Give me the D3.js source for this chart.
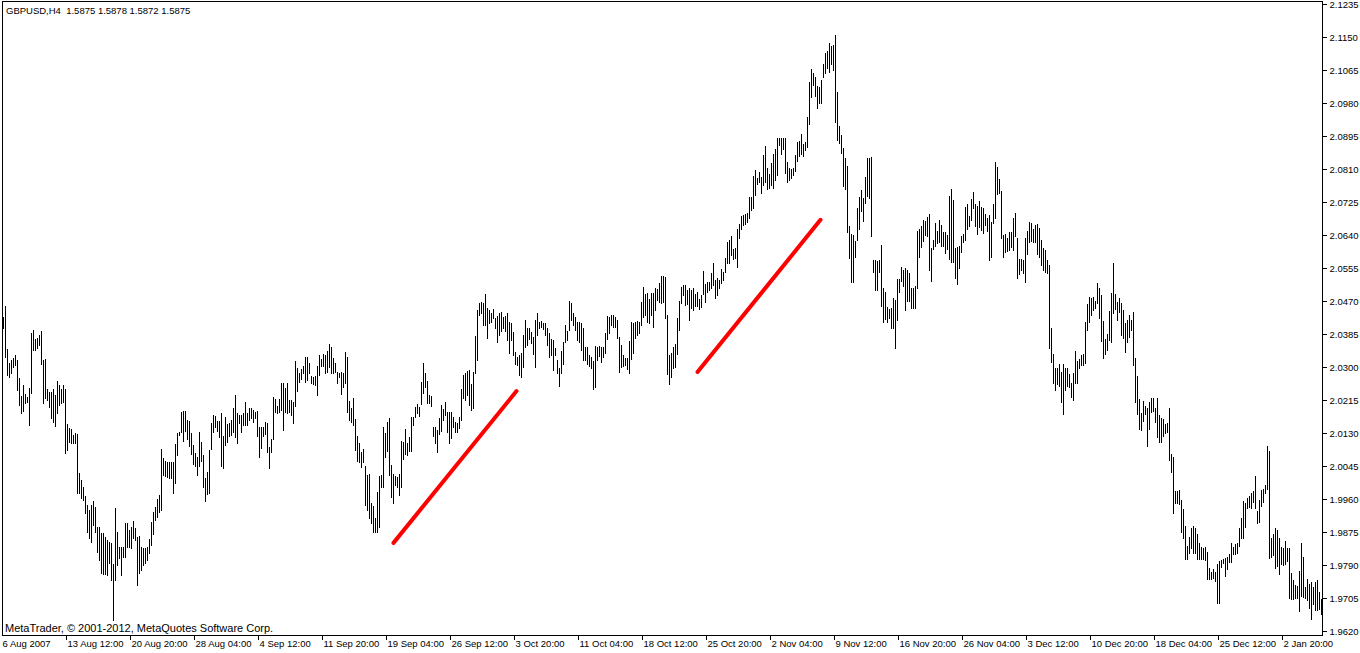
<!DOCTYPE html>
<html><head><meta charset="utf-8">
<script src="https://cdn.jsdelivr.net/npm/d3@7/dist/d3.min.js"></script>
<style>
body{margin:0;background:#fff}
svg{display:block}
text{font-family:"Liberation Sans",Arial,sans-serif;font-size:9.5px;fill:#000}
</style>
</head><body>
<svg id="chart" width="1360" height="653"></svg>
<script>
const symbolTitle = "GBPUSD,H4  1.5875 1.5878 1.5872 1.5875";
const copyrightText = "MetaTrader, \u00a9 2001-2012, MetaQuotes Software Corp.";

const highs = [
2.0429,2.0457,2.0346,2.0310,2.0318,2.0323,2.0331,2.0318,2.0272,2.0225,
2.0254,2.0230,2.0223,2.0246,2.0388,2.0395,2.0372,2.0375,2.0382,2.0393,
2.0318,2.0321,2.0243,2.0236,2.0236,2.0243,2.0228,2.0264,2.0254,2.0243,
2.0254,2.0243,2.0153,2.0143,2.0140,2.0125,2.0130,2.0127,2.0027,2.0009,
1.9991,1.9968,1.9945,1.9932,1.9945,1.9955,1.9939,1.9888,1.9888,1.9872,
1.9872,1.9862,1.9854,1.9849,1.9847,1.9793,1.9937,1.9875,1.9836,1.9836,
1.9836,1.9898,1.9898,1.9880,1.9888,1.9903,1.9885,1.9862,1.9865,1.9836,
1.9834,1.9834,1.9836,1.9857,1.9901,1.9926,1.9939,1.9960,1.9970,2.0089,
2.0066,2.0058,2.0055,2.0055,2.0055,2.0055,2.0102,2.0130,2.0133,2.0184,
2.0187,2.0187,2.0163,2.0161,2.0130,2.0099,2.0079,2.0068,2.0133,2.0107,
2.0073,2.0014,2.0030,2.0086,2.0156,2.0176,2.0174,2.0161,2.0161,2.0182,
2.0122,2.0171,2.0153,2.0156,2.0163,2.0194,2.0228,2.0182,2.0176,2.0176,
2.0182,2.0210,2.0182,2.0194,2.0194,2.0189,2.0184,2.0187,2.0146,2.0146,
2.0146,2.0158,2.0156,2.0094,2.0115,2.0223,2.0218,2.0200,2.0218,2.0259,
2.0259,2.0246,2.0259,2.0215,2.0215,2.0210,2.0315,2.0297,2.0285,2.0295,
2.0303,2.0326,2.0326,2.0310,2.0277,2.0274,2.0277,2.0303,2.0331,2.0321,
2.0334,2.0331,2.0341,2.0359,2.0352,2.0323,2.0310,2.0287,2.0285,2.0287,
2.0285,2.0339,2.0326,2.0212,2.0194,2.0220,2.0166,2.0122,2.0104,2.0081,
2.0089,2.0045,2.0022,2.0024,1.9950,1.9942,1.9911,1.9978,2.0019,2.0022,
2.0146,2.0130,2.0158,2.0169,2.0047,2.0024,2.0019,2.0017,2.0024,2.0109,
2.0107,2.0140,2.0104,2.0120,2.0171,2.0171,2.0197,2.0205,2.0197,2.0261,
2.0310,2.0285,2.0264,2.0228,2.0225,2.0146,2.0146,2.0138,2.0169,2.0202,
2.0192,2.0210,2.0184,2.0184,2.0184,2.0171,2.0158,2.0156,2.0171,2.0243,
2.0279,2.0285,2.0290,2.0292,2.0256,2.0287,2.0380,2.0447,2.0465,2.0467,
2.0465,2.0488,2.0452,2.0447,2.0439,2.0449,2.0426,2.0431,2.0439,2.0441,
2.0429,2.0431,2.0439,2.0416,2.0413,2.0390,2.0339,2.0326,2.0331,2.0336,
2.0382,2.0421,2.0400,2.0400,2.0390,2.0377,2.0421,2.0439,2.0416,2.0418,
2.0413,2.0413,2.0400,2.0388,2.0372,2.0370,2.0349,2.0318,2.0297,2.0341,
2.0365,2.0408,2.0393,2.0470,2.0465,2.0439,2.0429,2.0416,2.0416,2.0413,
2.0400,2.0352,2.0352,2.0331,2.0326,2.0315,2.0354,2.0352,2.0354,2.0352,
2.0352,2.0388,2.0431,2.0429,2.0434,2.0434,2.0429,2.0421,2.0377,2.0357,
2.0331,2.0323,2.0323,2.0367,2.0416,2.0413,2.0416,2.0418,2.0416,2.0467,
2.0506,2.0488,2.0491,2.0475,2.0491,2.0491,2.0504,2.0501,2.0516,2.0534,
2.0534,2.0532,2.0434,2.0331,2.0336,2.0352,2.0359,2.0426,2.0470,2.0506,
2.0511,2.0511,2.0498,2.0504,2.0498,2.0504,2.0488,2.0493,2.0475,2.0485,
2.0547,2.0514,2.0519,2.0519,2.0542,2.0568,2.0524,2.0529,2.0524,2.0552,
2.0545,2.0581,2.0622,2.0627,2.0637,2.0604,2.0606,2.0655,2.0668,2.0689,
2.0691,2.0694,2.0697,2.0738,2.0738,2.0792,2.0807,2.0787,2.0802,2.0789,
2.0846,2.0869,2.0813,2.0797,2.0825,2.0849,2.0861,2.0890,2.0890,2.0890,
2.0890,2.0890,2.0828,2.0813,2.0810,2.0813,2.0846,2.0880,2.0882,2.0900,
2.0874,2.0880,2.0944,2.1034,2.1068,2.1057,2.1047,2.1024,2.1021,2.1039,
2.1080,2.1110,2.1114,2.1135,2.1127,2.1129,2.1155,2.1008,2.0921,2.0898,
2.0864,2.0838,2.0818,2.0663,2.0643,2.0640,2.0625,2.0710,2.0738,2.0756,
2.0735,2.0789,2.0838,2.0838,2.0841,2.0576,2.0576,2.0573,2.0576,2.0614,
2.0504,2.0493,2.0454,2.0449,2.0452,2.0478,2.0473,2.0527,2.0527,2.0557,
2.0550,2.0555,2.0550,2.0542,2.0504,2.0504,2.0509,2.0650,2.0655,2.0663,
2.0679,2.0676,2.0686,2.0694,2.0606,2.0627,2.0671,2.0650,2.0679,2.0666,
2.0648,2.0648,2.0640,2.0740,2.0758,2.0730,2.0606,2.0609,2.0612,2.0637,
2.0643,2.0712,2.0720,2.0689,2.0733,2.0751,2.0720,2.0715,2.0728,2.0712,
2.0710,2.0694,2.0684,2.0691,2.0673,2.0720,2.0828,2.0815,2.0784,2.0753,
2.0640,2.0643,2.0632,2.0648,2.0648,2.0684,2.0697,2.0632,2.0578,2.0578,
2.0576,2.0632,2.0650,2.0673,2.0671,2.0655,2.0666,2.0668,2.0658,2.0627,
2.0606,2.0601,2.0576,2.0563,2.0400,2.0334,2.0297,2.0297,2.0308,2.0287,
2.0308,2.0297,2.0297,2.0282,2.0259,2.0285,2.0341,2.0315,2.0321,2.0331,
2.0334,2.0416,2.0462,2.0480,2.0478,2.0480,2.0470,2.0516,2.0504,2.0486,
2.0418,2.0372,2.0385,2.0444,2.0491,2.0568,2.0488,2.0467,2.0478,2.0465,
2.0447,2.0413,2.0421,2.0434,2.0421,2.0441,2.0323,2.0277,2.0218,2.0182,
2.0212,2.0200,2.0194,2.0210,2.0220,2.0220,2.0194,2.0220,2.0176,2.0169,
2.0166,2.0153,2.0156,2.0194,2.0076,2.0068,1.9981,1.9981,1.9983,1.9957,
1.9934,1.9890,1.9839,1.9862,1.9885,1.9890,1.9885,1.9870,1.9847,1.9836,
1.9834,1.9836,1.9823,1.9782,1.9772,1.9780,1.9772,1.9793,1.9800,1.9803,
1.9805,1.9808,1.9811,1.9818,1.9847,1.9836,1.9844,1.9847,1.9885,1.9911,
1.9955,1.9950,1.9963,1.9968,1.9975,1.9981,2.0019,1.9929,1.9957,1.9983,
1.9986,1.9996,2.0097,2.0084,1.9860,1.9870,1.9885,1.9880,1.9860,1.9836,
1.9834,1.9852,1.9834,1.9834,1.9769,1.9751,1.9738,1.9736,1.9774,1.9847,
1.9811,1.9733,1.9754,1.9741,1.9746,1.9733,1.9746,1.9751,1.9720,1.9702
];

const lows = [
2.0400,2.0326,2.0279,2.0274,2.0285,2.0300,2.0305,2.0241,2.0202,2.0182,
2.0187,2.0207,2.0210,2.0151,2.0233,2.0344,2.0344,2.0349,2.0357,2.0308,
2.0207,2.0220,2.0215,2.0197,2.0169,2.0158,2.0148,2.0182,2.0202,2.0207,
2.0210,2.0079,2.0086,2.0107,2.0104,2.0104,2.0104,1.9976,1.9976,1.9963,
1.9957,1.9924,1.9875,1.9860,1.9849,1.9893,1.9875,1.9823,1.9803,1.9769,
1.9767,1.9767,1.9764,1.9795,1.9751,1.9648,1.9751,1.9790,1.9808,1.9764,
1.9811,1.9811,1.9836,1.9836,1.9834,1.9860,1.9854,1.9738,1.9769,1.9777,
1.9790,1.9795,1.9803,1.9821,1.9842,1.9870,1.9906,1.9914,1.9926,1.9932,
2.0022,2.0019,2.0017,2.0014,2.0014,1.9976,2.0001,2.0073,2.0125,2.0133,
2.0109,2.0135,2.0115,2.0097,2.0076,2.0050,2.0045,2.0022,2.0045,2.0058,
1.9991,1.9955,1.9973,1.9976,2.0089,2.0133,2.0146,2.0135,2.0120,2.0045,
2.0040,2.0099,2.0107,2.0122,2.0125,2.0133,2.0120,2.0104,2.0156,2.0133,
2.0151,2.0151,2.0151,2.0163,2.0169,2.0158,2.0169,2.0122,2.0068,2.0091,
2.0122,2.0127,2.0081,2.0040,2.0081,2.0115,2.0184,2.0182,2.0184,2.0189,
2.0138,2.0184,2.0182,2.0184,2.0176,2.0156,2.0200,2.0238,2.0261,2.0269,
2.0285,2.0261,2.0267,2.0285,2.0259,2.0256,2.0254,2.0228,2.0279,2.0303,
2.0303,2.0285,2.0287,2.0300,2.0285,2.0285,2.0287,2.0259,2.0274,2.0230,
2.0249,2.0259,2.0184,2.0163,2.0158,2.0151,2.0086,2.0058,2.0055,2.0042,
2.0055,1.9945,1.9932,1.9911,1.9898,1.9875,1.9875,1.9875,1.9888,1.9991,
1.9991,2.0068,2.0084,2.0022,1.9965,1.9950,1.9996,1.9991,1.9970,1.9991,
2.0063,2.0076,2.0073,2.0084,2.0084,2.0151,2.0171,2.0182,2.0174,2.0205,
2.0233,2.0249,2.0207,2.0207,2.0200,2.0122,2.0104,2.0081,2.0127,2.0135,
2.0163,2.0176,2.0133,2.0104,2.0117,2.0146,2.0133,2.0133,2.0143,2.0163,
2.0220,2.0215,2.0228,2.0202,2.0189,2.0194,2.0285,2.0318,2.0434,2.0439,
2.0408,2.0408,2.0375,2.0413,2.0416,2.0426,2.0400,2.0364,2.0382,2.0393,
2.0400,2.0393,2.0370,2.0336,2.0370,2.0331,2.0308,2.0305,2.0279,2.0274,
2.0300,2.0352,2.0357,2.0372,2.0362,2.0334,2.0300,2.0382,2.0400,2.0403,
2.0398,2.0382,2.0357,2.0326,2.0331,2.0292,2.0331,2.0285,2.0251,2.0285,
2.0308,2.0364,2.0370,2.0395,2.0421,2.0408,2.0395,2.0370,2.0364,2.0344,
2.0318,2.0318,2.0308,2.0303,2.0297,2.0243,2.0249,2.0318,2.0328,2.0313,
2.0326,2.0336,2.0372,2.0388,2.0408,2.0403,2.0403,2.0375,2.0287,2.0300,
2.0303,2.0305,2.0295,2.0285,2.0321,2.0336,2.0375,2.0382,2.0388,2.0408,
2.0429,2.0434,2.0416,2.0413,2.0434,2.0403,2.0447,2.0473,2.0467,2.0465,
2.0467,2.0426,2.0282,2.0256,2.0274,2.0297,2.0300,2.0334,2.0395,2.0465,
2.0486,2.0460,2.0462,2.0421,2.0452,2.0447,2.0457,2.0457,2.0450,2.0455,
2.0488,2.0467,2.0493,2.0498,2.0504,2.0511,2.0478,2.0486,2.0504,2.0516,
2.0524,2.0545,2.0568,2.0568,2.0588,2.0578,2.0581,2.0557,2.0632,2.0655,
2.0666,2.0668,2.0673,2.0684,2.0704,2.0710,2.0743,2.0771,2.0777,2.0748,
2.0769,2.0777,2.0758,2.0761,2.0769,2.0761,2.0782,2.0795,2.0872,2.0849,
2.0862,2.0800,2.0777,2.0782,2.0787,2.0795,2.0805,2.0831,2.0844,2.0849,
2.0843,2.0859,2.0867,2.0926,2.0995,2.1026,2.0998,2.0967,2.0980,2.0980,
2.1047,2.1057,2.1070,2.1060,2.1080,2.1065,2.0931,2.0885,2.0877,2.0851,
2.0766,2.0758,2.0648,2.0581,2.0519,2.0519,2.0583,2.0627,2.0655,2.0702,
2.0676,2.0722,2.0740,2.0735,2.0637,2.0545,2.0498,2.0498,2.0545,2.0457,
2.0416,2.0424,2.0416,2.0426,2.0400,2.0400,2.0349,2.0421,2.0493,2.0522,
2.0509,2.0447,2.0470,2.0470,2.0452,2.0452,2.0452,2.0504,2.0583,2.0609,
2.0625,2.0640,2.0637,2.0550,2.0522,2.0604,2.0612,2.0619,2.0622,2.0612,
2.0612,2.0594,2.0604,2.0578,2.0570,2.0570,2.0529,2.0514,2.0555,2.0596,
2.0622,2.0627,2.0655,2.0663,2.0679,2.0710,2.0663,2.0643,2.0661,2.0653,
2.0645,2.0666,2.0650,2.0576,2.0583,2.0671,2.0684,2.0746,2.0748,2.0632,
2.0583,2.0596,2.0599,2.0601,2.0609,2.0601,2.0637,2.0529,2.0540,2.0550,
2.0542,2.0519,2.0591,2.0622,2.0625,2.0622,2.0622,2.0591,2.0583,2.0563,
2.0550,2.0545,2.0542,2.0349,2.0313,2.0259,2.0241,2.0256,2.0251,2.0210,
2.0179,2.0241,2.0251,2.0249,2.0223,2.0215,2.0259,2.0259,2.0297,2.0305,
2.0305,2.0310,2.0395,2.0416,2.0434,2.0447,2.0452,2.0465,2.0426,2.0367,
2.0323,2.0334,2.0344,2.0370,2.0364,2.0439,2.0449,2.0421,2.0441,2.0382,
2.0375,2.0339,2.0364,2.0377,2.0395,2.0305,2.0210,2.0179,2.0140,2.0138,
2.0161,2.0179,2.0097,2.0140,2.0184,2.0187,2.0158,2.0120,2.0107,2.0107,
2.0122,2.0130,2.0133,2.0060,2.0030,1.9924,1.9950,1.9950,1.9947,1.9875,
1.9860,1.9806,1.9806,1.9821,1.9834,1.9821,1.9821,1.9806,1.9806,1.9806,
1.9806,1.9803,1.9754,1.9754,1.9754,1.9756,1.9749,1.9692,1.9692,1.9785,
1.9795,1.9762,1.9780,1.9798,1.9798,1.9818,1.9818,1.9821,1.9839,1.9860,
1.9860,1.9888,1.9937,1.9939,1.9937,1.9952,1.9937,1.9898,1.9901,1.9942,
1.9952,1.9976,1.9986,1.9808,1.9811,1.9816,1.9782,1.9787,1.9767,1.9793,
1.9790,1.9793,1.9800,1.9705,1.9702,1.9702,1.9705,1.9705,1.9671,1.9710,
1.9708,1.9705,1.9700,1.9679,1.9651,1.9690,1.9674,1.9674,1.9677,1.9664
];

const priceTicks = [2.1235,2.1150,2.1065,2.0980,2.0895,2.0810,2.0725,2.0640,2.0555,2.0470,
  2.0385,2.0300,2.0215,2.0130,2.0045,1.9960,1.9875,1.9790,1.9705,1.9620];

const dateTickBars = [0,31,63,95,127,159,191,223,255,287,319,351,383,415,447,479,511,543,575,607,639];
const dateTickLabels = ["6 Aug 2007","13 Aug 12:00","20 Aug 20:00","28 Aug 04:00","4 Sep 12:00",
  "11 Sep 20:00","19 Sep 04:00","26 Sep 12:00","3 Oct 20:00","11 Oct 04:00","18 Oct 12:00",
  "25 Oct 20:00","2 Nov 04:00","9 Nov 12:00","16 Nov 20:00","26 Nov 04:00","3 Dec 12:00",
  "10 Dec 20:00","18 Dec 04:00","25 Dec 12:00","2 Jan 20:00"];

// trend lines drawn on the chart
const trendStartBars = [195, 347];
const trendStartPrices = [1.9847, 2.0287];
const trendEndBars = [256.5, 408.5];
const trendEndPrices = [2.0238, 2.0679];

(function draw() {
  const N = Math.min(highs.length, lows.length);
  const bars = d3.range(N).map(i => ({i, h: highs[i], l: lows[i]}));

  const svg = d3.select("#chart");
  const fL = 2, fT = 1, fR = 1322, fB = 635;

  const x = d3.scaleLinear().domain([0, 659]).range([3.5, 1321.5]);
  const y = d3.scaleLinear().domain([1.9620, 2.1235]).range([631, 4]);

  svg.append("g").attr("shape-rendering","crispEdges")
    .selectAll("line").data(bars).join("line")
    .attr("x1", d => x(d.i)).attr("x2", d => x(d.i))
    .attr("y1", d => Math.round(y(d.h)))
    .attr("y2", d => Math.round(y(d.l)) + 1)
    .attr("stroke","#000").attr("stroke-width",1);

  svg.append("g").selectAll("line").data(d3.range(trendStartBars.length)).join("line")
    .attr("x1", k => x(trendStartBars[k])).attr("y1", k => y(trendStartPrices[k]))
    .attr("x2", k => x(trendEndBars[k])).attr("y2", k => y(trendEndPrices[k]))
    .attr("stroke","#ff0000").attr("stroke-width",4).attr("stroke-linecap","round");

  svg.append("rect").attr("x", fL + 0.5).attr("y", fT + 0.5)
    .attr("width", fR - fL).attr("height", fB - fT)
    .attr("fill","none").attr("stroke","#000").attr("shape-rendering","crispEdges");

  const yAxis = d3.axisRight(y).tickValues(priceTicks).tickSize(4).tickPadding(3)
    .tickFormat(d3.format(".4f"));
  const gy = svg.append("g").attr("transform", `translate(${fR + 0.5},0)`).call(yAxis);
  gy.select(".domain").remove();
  gy.selectAll("line").attr("shape-rendering","crispEdges");
  gy.selectAll("text").attr("fill","#000");
  gy.attr("font-family", null).attr("font-size", null);

  const xAxis = d3.axisBottom(x).tickValues(dateTickBars)
    .tickFormat((d, k) => dateTickLabels[k]).tickSize(4).tickPadding(2);
  const gx = svg.append("g").attr("transform", `translate(0,${fB + 0.5})`).call(xAxis);
  gx.select(".domain").remove();
  gx.attr("font-family", null).attr("font-size", null);
  gx.selectAll("line").attr("shape-rendering","crispEdges");
  gx.selectAll(".tick").filter(d => d === 0).select("line").remove();
  gx.selectAll("text")
    .attr("text-anchor","start").attr("x", d => d === 0 ? -1.5 : 1.5).attr("dy","0.71em").attr("y", 5)
    .attr("fill","#000");

  svg.append("text").attr("x", 6).attr("y", 14).style("white-space","pre").text(symbolTitle);
  svg.append("text").attr("x", 5).attr("y", 632).style("font-size","11px").text(copyrightText);
})();
</script>
</body></html>
